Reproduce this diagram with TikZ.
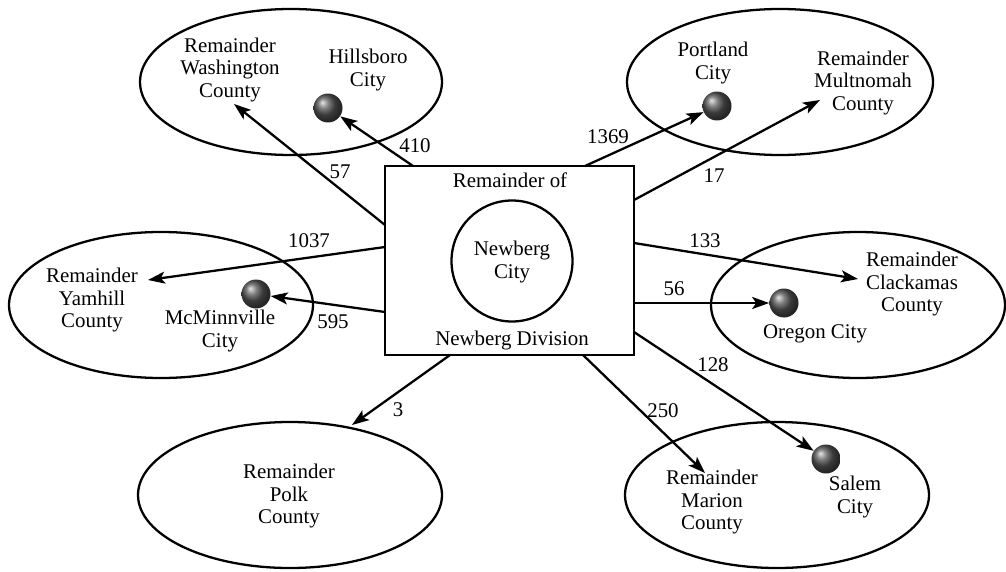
\documentclass[tikz,border=0pt]{standalone}
\usepackage{fontspec}
\setmainfont{Liberation Serif}
\usetikzlibrary{shapes.geometric,arrows.meta}
\begin{document}
\begin{tikzpicture}[x=0.02cm,y=-0.02cm,
  county/.style={ellipse,draw,line width=1.3pt,inner sep=0pt},
  ballnode/.style={circle,inner sep=0pt,minimum size=0.58cm,shading=ball,ball color=gray!65!black},
  lbl/.style={align=center,font=\fontsize{11.9}{12.6}\selectfont,inner sep=0pt},
  num/.style={font=\fontsize{11.9}{12.6}\selectfont,inner sep=0pt},
  flow/.style={line width=1.3pt,-{Stealth[length=0.34cm,width=0.24cm,inset=0.08cm]}}]
\useasboundingbox (0,0) rectangle (1006,571);
% counties
\node[county,minimum width=302*0.02cm,minimum height=146*0.02cm] (wash) at (291,82) {};
\node[county,minimum width=306*0.02cm,minimum height=146*0.02cm] (mult) at (780,82) {};
\node[county,minimum width=304*0.02cm,minimum height=146*0.02cm] (yam) at (161,305) {};
\node[county,minimum width=294*0.02cm,minimum height=146*0.02cm] (clack) at (858,305) {};
\node[county,minimum width=304*0.02cm,minimum height=146*0.02cm] (polk) at (290,495) {};
\node[county,minimum width=304*0.02cm,minimum height=146*0.02cm] (mar) at (777,495) {};
% central
\node[draw,line width=1.4pt,minimum width=249*0.02cm,minimum height=189*0.02cm,inner sep=0pt] (rect) at (509.5,260.5) {};
\node[circle,draw,line width=1.3pt,minimum size=121*0.02cm,inner sep=0pt] (nc) at (512,261) {};
\node[lbl] (ncl) at (512,262) {Newberg\\City};
\node[lbl] (rof) at (510,180) {Remainder of};
\node[lbl] (ndiv) at (512,340) {Newberg Division};
% cities
\node[ballnode] (hb) at (328,108) {};
\node[ballnode] (pt) at (717,106) {};
\node[ballnode] (mc) at (256,294) {};
\node[ballnode] (oc) at (784,303) {};
\node[ballnode] (sa) at (826,459) {};
% labels
\node[lbl] (washl) at (230,70) {Remainder\\Washington\\County};
\node[lbl] (hbl) at (368,70) {Hillsboro\\City};
\node[lbl] (ptl) at (713,63) {Portland\\City};
\node[lbl] (multl) at (863,83) {Remainder\\Multnomah\\County};
\node[lbl] (yaml) at (92,300) {Remainder\\Yamhill\\County};
\node[lbl] (mcl) at (220,331) {McMinnville\\City};
\node[lbl] (clackl) at (912,284) {Remainder\\Clackamas\\County};
\node[lbl] (ocl) at (815,334) {Oregon City};
\node[lbl] (polkl) at (289,496) {Remainder\\Polk\\County};
\node[lbl] (marl) at (712,502) {Remainder\\Marion\\County};
\node[lbl] (sal) at (855,497) {Salem\\City};
% connector coordinates
\coordinate (s57) at (385,225);
\coordinate (s410) at (413,166);
\coordinate (s1369) at (585,166);
\coordinate (s17) at (634,200);
\coordinate (s1037) at (385,247);
\coordinate (s595) at (385,312);
\coordinate (s133) at (634,243);
\coordinate (s56) at (634,303);
\coordinate (s128) at (634,332);
\coordinate (s250) at (583,355);
\coordinate (s3) at (450,355);
\coordinate (t57) at (234,104);
\coordinate (t17) at (820,100);
\coordinate (t1037) at (148,280);
\coordinate (t133) at (858,279);
\coordinate (t250) at (705,473);
\coordinate (t3) at (352,425);
% flows
\draw[flow] (s57) -- (t57);
\draw[flow] (s410) -- (hb);
\draw[flow] (s1369) -- (pt);
\draw[flow] (s17) -- (t17);
\draw[flow] (s1037) -- (t1037);
\draw[flow] (s595) -- (mc);
\draw[flow] (s133) -- (t133);
\draw[flow] (s56) -- (oc);
\draw[flow] (s128) -- (sa);
\draw[flow] (s250) -- (t250);
\draw[flow] (s3) -- (t3);
% numbers
\node[num] (n57) at (340,172) {57};
\node[num] (n410) at (415,146) {410};
\node[num] (n1369) at (608,137) {1369};
\node[num] (n17) at (714,176) {17};
\node[num] (n1037) at (309,241) {1037};
\node[num] (n595) at (333,322) {595};
\node[num] (n133) at (705,241) {133};
\node[num] (n56) at (674,289) {56};
\node[num] (n128) at (713,365) {128};
\node[num] (n250) at (663,411) {250};
\node[num] (n3) at (398,410) {3};
\end{tikzpicture}
\end{document}
